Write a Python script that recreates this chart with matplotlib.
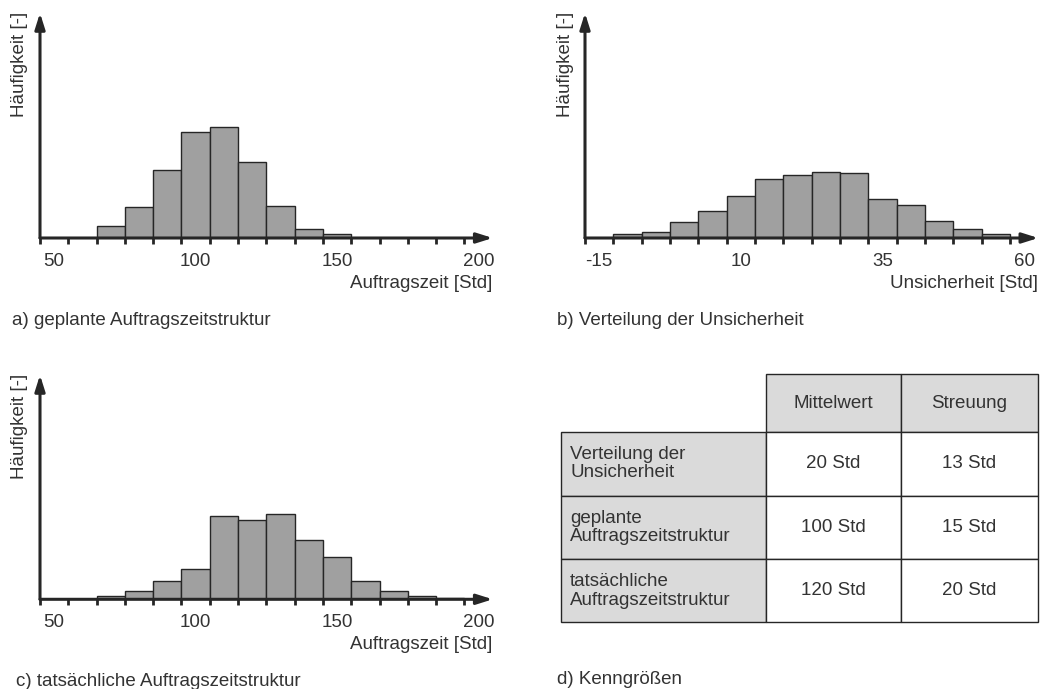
import numpy as np
import matplotlib
matplotlib.use("Agg")
import matplotlib.pyplot as plt
from matplotlib.patches import Rectangle

plt.rcParams["font.family"] = ["Liberation Sans", "DejaVu Sans"]

W, H = 1043, 689
TEXT = "#333333"
LINE = "#262626"
BAR = "#a0a0a0"
CELL = "#dadada"
FS = 13.5

# a) geplante Auftragszeitstruktur (Klassenmitten, Häufigkeit)
planned_centers = [70, 80, 90, 100, 110, 120, 130, 140, 150]
planned_counts = [35, 93, 204, 317, 333, 227, 97, 27, 13]

# b) Verteilung der Unsicherheit
uncert_centers = [-10, -5, 0, 5, 10, 15, 20, 25, 30, 35, 40, 45, 50, 55]
uncert_counts = [11, 18, 48, 81, 125, 177, 189, 197, 194, 117, 99, 51, 28, 13]

# c) tatsächliche Auftragszeitstruktur
actual_centers = [70, 80, 90, 100, 110, 120, 130, 140, 150, 160, 170, 180, 190]
actual_counts = [9, 26, 55, 91, 252, 239, 256, 178, 128, 54, 25, 9, 3]

time_labels = [50, 100, 150, 200]
uncert_labels = [-15, 10, 35, 60]

# d) Kenngrößen
table_cols = ["Mittelwert", "Streuung"]
table_rows = ["Verteilung der\nUnsicherheit",
              "geplante\nAuftragszeitstruktur",
              "tatsächliche\nAuftragszeitstruktur"]
table_mean = ["20 Std", "100 Std", "120 Std"]
table_spread = ["13 Std", "15 Std", "20 Std"]


def fx(x):
    return x / W


def fy(y):
    return 1 - y / H


def histogram(fig, left, right, base, top, centers, counts, width, xmin, xmax,
              labels, xlabel):
    ax = fig.add_axes([fx(left), fy(base), fx(right - left), (base - top) / H])
    ax.bar(centers, counts, width=width, color=BAR, edgecolor=LINE, linewidth=1.0,
           zorder=1)
    ax.set_xlim(xmin, xmax)
    ax.set_ylim(0, 675)
    for s in ax.spines.values():
        s.set_visible(False)
    ax.set_yticks([])

    edges = np.arange(xmin, xmax - width / 2, width)
    ax.set_xticks(labels)
    ax.set_xticklabels([str(v) for v in labels], fontsize=FS, color=TEXT)
    ax.tick_params(axis="x", which="major", length=0, pad=10.5)
    ax.set_xticks(edges, minor=True)
    ax.tick_params(axis="x", which="minor", length=4.5, width=2.0,
                   color=LINE, direction="out")

    arrow = dict(arrowstyle="-|>,head_length=0.95,head_width=0.3",
                 lw=2.2, color=LINE, shrinkA=0, shrinkB=0, mutation_scale=10)
    ax.annotate("", xy=(1, 0), xytext=(0, 0), xycoords="axes fraction",
                arrowprops=arrow, annotation_clip=False, zorder=4)
    ax.annotate("", xy=(0, 1), xytext=(0, 0), xycoords="axes fraction",
                arrowprops=arrow, annotation_clip=False, zorder=4)

    fig.text(fx(right), fy(base + 45), xlabel, ha="right", va="center",
             fontsize=FS, color=TEXT)
    fig.text(fx(left - 20), fy(top - 1), "Häufigkeit [-]", rotation=90,
             ha="center", va="top", fontsize=FS, color=TEXT)
    return ax


fig = plt.figure(figsize=(W / 100, H / 100), dpi=100)

histogram(fig, 40, 492.7, 238, 13, planned_centers, planned_counts, 10,
          45, 205, time_labels, "Auftragszeit [Std]")
histogram(fig, 585, 1038.3, 238, 13, uncert_centers, uncert_counts, 5,
          -17.5, 62.5, uncert_labels, "Unsicherheit [Std]")
histogram(fig, 40, 492.7, 599.3, 375, actual_centers, actual_counts, 10,
          45, 205, time_labels, "Auftragszeit [Std]")

fig.text(fx(11.7), fy(320), "a) geplante Auftragszeitstruktur",
         ha="left", va="center", fontsize=FS, color=TEXT)
fig.text(fx(556.7), fy(320), "b) Verteilung der Unsicherheit",
         ha="left", va="center", fontsize=FS, color=TEXT)
fig.text(fx(16), fy(681), "c) tatsächliche Auftragszeitstruktur",
         ha="left", va="center", fontsize=FS, color=TEXT)
fig.text(fx(556.7), fy(680), "d) Kenngrößen",
         ha="left", va="center", fontsize=FS, color=TEXT)

# table drawn in pixel coordinates on an overlay axes
tab = fig.add_axes([0, 0, 1, 1])
tab.set_xlim(0, W)
tab.set_ylim(H, 0)
tab.axis("off")

col_x = [560.7, 765.7, 901, 1037.7]
row_y = [374.3, 431.7, 495.7, 559.3, 622.3]

for j, name in enumerate(table_cols):
    x0, x1 = col_x[j + 1], col_x[j + 2]
    tab.add_patch(Rectangle((x0, row_y[0]), x1 - x0, row_y[1] - row_y[0],
                            facecolor=CELL, edgecolor=LINE, linewidth=1.0))
    tab.text((x0 + x1) / 2, (row_y[0] + row_y[1]) / 2, name,
             ha="center", va="center", fontsize=FS, color=TEXT)

for i, label in enumerate(table_rows):
    y0, y1 = row_y[i + 1], row_y[i + 2]
    yc = (y0 + y1) / 2
    tab.add_patch(Rectangle((col_x[0], y0), col_x[1] - col_x[0], y1 - y0,
                            facecolor=CELL, edgecolor=LINE, linewidth=1.0))
    tab.text(col_x[0] + 9.5, yc, label, ha="left", va="center",
             fontsize=FS, color=TEXT, linespacing=1.12)
    for j, val in enumerate([table_mean[i], table_spread[i]]):
        x0, x1 = col_x[j + 1], col_x[j + 2]
        tab.add_patch(Rectangle((x0, y0), x1 - x0, y1 - y0,
                                facecolor="white", edgecolor=LINE, linewidth=1.0))
        tab.text((x0 + x1) / 2, yc, val, ha="center", va="center",
                 fontsize=FS, color=TEXT)

fig.savefig("out.png", dpi=100)
